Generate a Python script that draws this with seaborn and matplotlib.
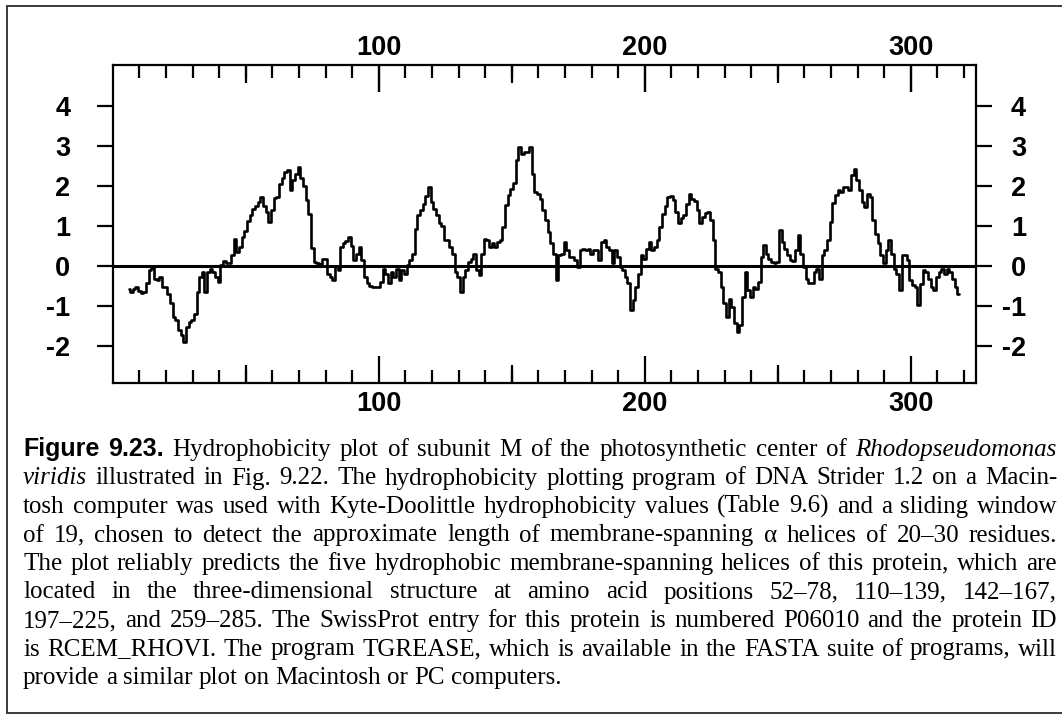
import matplotlib
matplotlib.use("Agg")
import matplotlib.pyplot as plt
from matplotlib.lines import Line2D
from matplotlib.ticker import FixedLocator
import numpy as np
import pandas as pd
import seaborn as sns

# Kyte-Doolittle hydropathy of subunit M, sliding window of 19 (one value per residue)
first_residue = 6
hydropathy = [
    -0.59, -0.65, -0.57, -0.52, -0.62, -0.67, -0.65, -0.44, -0.10, -0.05,   # 6-15
    -0.32, -0.36, -0.28, -0.52, -0.52, -0.70, -0.94, -1.28, -1.36, -1.60,   # 16-25
    -1.73, -1.90, -1.52, -1.40, -1.36, -1.20, -0.65, -0.28, -0.15, -0.65,   # 26-35
    -0.15, -0.07, -0.15, -0.28, -0.40, 0.02, 0.12, 0.08, 0.06, 0.27,        # 36-45
    0.68, 0.35, 0.48, 0.72, 0.88, 1.12, 1.27, 1.42, 1.50, 1.60,             # 46-55
    1.72, 1.50, 1.35, 1.10, 1.40, 1.70, 1.72, 2.05, 2.20, 2.35,             # 56-65
    2.40, 1.90, 2.15, 2.30, 2.48, 2.20, 2.00, 1.65, 1.30, 0.45,             # 66-75
    0.10, 0.08, 0.05, 0.18, 0.18, -0.20, -0.28, -0.35, 0.00, -0.10,         # 76-85
    0.48, 0.56, 0.62, 0.72, 0.50, 0.15, 0.30, 0.48, 0.14, -0.28,            # 86-95
    -0.44, -0.50, -0.52, -0.52, -0.52, -0.40, -0.07, -0.20, -0.44, -0.15,   # 96-105
    -0.28, -0.07, -0.36, -0.10, -0.20, 0.02, 0.14, 0.30, 0.93, 1.27,        # 106-115
    1.40, 1.55, 1.74, 1.97, 1.60, 1.43, 1.27, 1.07, 1.00, 0.64,             # 116-125
    0.64, 0.48, 0.30, -0.15, -0.28, -0.65, -0.28, -0.10, 0.10, 0.18,        # 126-135
    0.30, -0.10, -0.22, 0.30, 0.68, 0.64, 0.48, 0.56, 0.48, 0.60,           # 136-145
    0.64, 0.98, 1.52, 1.77, 1.93, 2.06, 2.64, 2.98, 2.80, 2.85,             # 146-155
    2.85, 2.98, 2.30, 1.85, 1.80, 1.68, 1.40, 1.14, 0.85, 0.56,             # 156-165
    0.30, -0.36, 0.27, 0.30, 0.60, 0.40, 0.22, 0.22, 0.14, -0.02,           # 166-175
    0.40, 0.43, 0.40, 0.43, 0.30, 0.40, 0.40, 0.14, 0.60, 0.64,             # 176-185
    0.48, 0.40, 0.06, 0.40, 0.22, -0.03, -0.10, -0.28, -0.44, -1.10,        # 186-195
    -0.86, -0.52, -0.20, 0.27, 0.18, 0.43, 0.60, 0.40, 0.48, 0.65,          # 196-205
    0.98, 1.30, 1.50, 1.72, 1.74, 1.64, 1.35, 1.06, 1.20, 1.27,             # 206-215
    1.55, 1.80, 1.68, 1.62, 1.40, 1.06, 1.22, 1.32, 1.35, 1.14,             # 216-225
    0.64, -0.07, -0.15, -0.52, -0.94, -1.28, -0.82, -1.02, -1.44, -1.65,    # 226-235
    -1.48, -0.78, -0.15, -0.60, -0.78, -0.52, -0.57, -0.40, 0.22, 0.52,     # 236-245
    0.30, 0.18, 0.10, 0.06, 0.10, 0.90, 0.60, 0.43, 0.27, 0.14,             # 246-255
    0.12, 0.40, 0.77, 0.30, -0.02, -0.32, -0.44, -0.44, -0.15, -0.07,       # 256-265
    -0.32, 0.27, 0.40, 0.64, 1.10, 1.56, 1.77, 1.90, 1.85, 1.97,            # 266-275
    1.97, 1.90, 2.27, 2.43, 2.14, 1.90, 1.60, 1.48, 1.80, 1.72,             # 276-285
    1.14, 0.80, 0.56, 0.27, 0.06, 0.40, 0.64, 0.30, -0.07, -0.20,           # 286-295
    -0.60, 0.27, 0.27, 0.14, -0.36, -0.48, -0.52, -0.98, -0.45, -0.10,      # 296-305
    -0.15, -0.32, -0.52, -0.60, -0.28, -0.15, -0.07, -0.20, -0.07, -0.15,   # 306-315
    -0.32, -0.52, -0.70,                                                    # 316-318
]
residue = np.arange(first_residue, first_residue + len(hydropathy))

x_label_ticks = [100, 200, 300]
x_half_ticks = [50, 150, 250]
x_small_ticks = list(range(10, 330, 10))
y_ticks = [-2, -1, 0, 1, 2, 3, 4]

caption_lines = [
    [("Figure 9.23.", "bold"),
     (" Hydrophobicity plot of subunit M of the photosynthetic center of ", "roman"),
     ("Rhodopseudomonas", "italic")],
    [("viridis", "italic"),
     (" illustrated in Fig. 9.22. The hydrophobicity plotting program of DNA Strider 1.2 on a Macin-", "roman")],
    [("tosh computer was used with Kyte-Doolittle hydrophobicity values (Table 9.6) and a sliding window", "roman")],
    [("of 19, chosen to detect the approximate length of membrane-spanning \u03b1 helices of 20\u201330 residues.", "roman")],
    [("The plot reliably predicts the five hydrophobic membrane-spanning helices of this protein, which are", "roman")],
    [("located in the three-dimensional structure at amino acid positions 52\u201378, 110\u2013139, 142\u2013167,", "roman")],
    [("197\u2013225, and 259\u2013285. The SwissProt entry for this protein is numbered P06010 and the protein ID", "roman")],
    [("is RCEM_RHOVI. The program TGREASE, which is available in the FASTA suite of programs, will", "roman")],
    [("provide a similar plot on Macintosh or PC computers.", "roman")],
]

W, H, DPI = 1062, 719, 100

sns.set_theme(style="white")
plt.rcParams["font.family"] = ["Liberation Sans", "DejaVu Sans"]
plt.rcParams.update({
    "font.weight": "bold",
    "text.color": "black",
    "xtick.color": "black",
    "ytick.color": "black",
    "axes.edgecolor": "black",
})

fig = plt.figure(figsize=(W / DPI, H / DPI), dpi=DPI)
fig.patch.set_facecolor("white")


def px_box(left, top, right, bottom):
    return [left / W, 1 - bottom / H, (right - left) / W, (bottom - top) / H]


ax = fig.add_axes(px_box(112.7, 65, 976, 383))
ax.set_facecolor("white")

df = pd.DataFrame({"residue": residue, "hydropathy": hydropathy})
ax.axhline(0, color="black", lw=2.2, zorder=2)
sns.lineplot(data=df, x="residue", y="hydropathy", ax=ax, color="black",
             linewidth=1.9, drawstyle="steps-mid", estimator=None, zorder=3)
XLIM, YLIM = (0, 324.5), (-2.93, 5.02)
ax.set_xlim(*XLIM)
ax.set_ylim(*YLIM)
ax.set_xlabel("")
ax.set_ylabel("")

# twins carry the top labels / half-hundred ticks and the right-hand labels
ax_top = ax.twiny()
ax_right = ax.twinx()
ax_top.set_xlim(*XLIM)
ax_right.set_ylim(*YLIM)
for a in (ax_top, ax_right):
    for s in a.spines.values():
        s.set_visible(False)

LW = 1.6
LABEL_SIZE = 19.5
for s in ax.spines.values():
    s.set_visible(True)
    s.set_color("black")
    s.set_linewidth(LW)

ax.set_xticks(x_label_ticks, labels=[str(v) for v in x_label_ticks])
ax.xaxis.set_minor_locator(FixedLocator(x_small_ticks))
ax.tick_params(axis="x", which="major", direction="in", length=19.4, width=LW,
               top=True, bottom=True, labeltop=False, labelbottom=True,
               labelsize=LABEL_SIZE, pad=5.6)
ax.tick_params(axis="x", which="minor", direction="in", length=9.4, width=LW,
               top=True, bottom=True)

ax_top.set_xticks(x_label_ticks, labels=[str(v) for v in x_label_ticks])
ax_top.xaxis.set_minor_locator(FixedLocator(x_half_ticks))
ax_top.tick_params(axis="x", which="major", direction="in", length=19.4, width=LW,
                   top=True, bottom=False, labeltop=True, labelbottom=False,
                   labelsize=LABEL_SIZE, pad=3.0)
ax_top.tick_params(axis="x", which="minor", direction="in", length=13, width=LW,
                   top=True, bottom=True)

ax.set_yticks(y_ticks, labels=[str(v) for v in y_ticks])
ax.tick_params(axis="y", which="major", direction="out", length=11.5, width=LW,
               left=True, right=False, labelleft=True, labelright=False,
               labelsize=LABEL_SIZE, pad=19.0)
ax.yaxis.set_minor_locator(FixedLocator([]))

ax_right.set_yticks(y_ticks, labels=[str(v) for v in y_ticks])
ax_right.tick_params(axis="y", which="major", direction="out", length=11.5, width=LW,
                     left=False, right=True, labelleft=False, labelright=True,
                     labelsize=LABEL_SIZE, pad=24.5)
for lbl in ax_right.get_yticklabels():
    lbl.set_horizontalalignment("right")

# outer frame
frame = dict(color="#3a3a3a", lw=1.4, transform=fig.transFigure)
fig.add_artist(Line2D([7 / W, 7 / W], [1 - 6 / H, 1 - 713 / H], **frame))
fig.add_artist(Line2D([7 / W, 1.0], [1 - 6 / H, 1 - 6 / H], **frame))
fig.add_artist(Line2D([7 / W, 1.0], [1 - 713 / H, 1 - 713 / H], **frame))

# justified caption
SERIF = ["Liberation Serif", "DejaVu Serif"]
SANS = ["Liberation Sans", "DejaVu Sans"]
STYLES = {
    "roman": dict(family=SERIF, weight="normal", style="normal"),
    "italic": dict(family=SERIF, weight="normal", style="italic"),
    "bold": dict(family=SANS, weight="bold", style="normal"),
}
CAP_LEFT, CAP_RIGHT = 23.0, 1057.0
CAP_BASE, CAP_STEP = 456.0, 28.5

renderer = fig.canvas.get_renderer()


def text_width(s, style, size):
    t = fig.text(0, 0, s, fontsize=size, **STYLES[style])
    w = t.get_window_extent(renderer).width
    t.remove()
    return w


def split_words(line):
    return [(w, st) for seg, st in line for w in seg.split()]


def natural_width(words, size):
    space = text_width("x x", "roman", size) - text_width("xx", "roman", size)
    return sum(text_width(w, st, size) for w, st in words) + space * (len(words) - 1)


trial = 17.0
target = CAP_RIGHT - CAP_LEFT
ratio = min(target / natural_width(split_words(l), trial) for l in caption_lines[:-1])
cap_size = min(trial * ratio * 0.995, 18.0)
space_w = text_width("x x", "roman", cap_size) - text_width("xx", "roman", cap_size)

for i, line in enumerate(caption_lines):
    words = split_words(line)
    widths = [text_width(w, st, cap_size) for w, st in words]
    if i < len(caption_lines) - 1 and len(words) > 1:
        gap = (target - sum(widths)) / (len(words) - 1)
    else:
        gap = space_w
    x = CAP_LEFT
    y = 1 - (CAP_BASE + i * CAP_STEP) / H
    for (w, st), wd in zip(words, widths):
        fig.text(x / W, y, w, fontsize=cap_size, va="baseline", ha="left",
                 color="black", **STYLES[st])
        x += wd + gap

fig.savefig("out.png", dpi=DPI, facecolor="white")
